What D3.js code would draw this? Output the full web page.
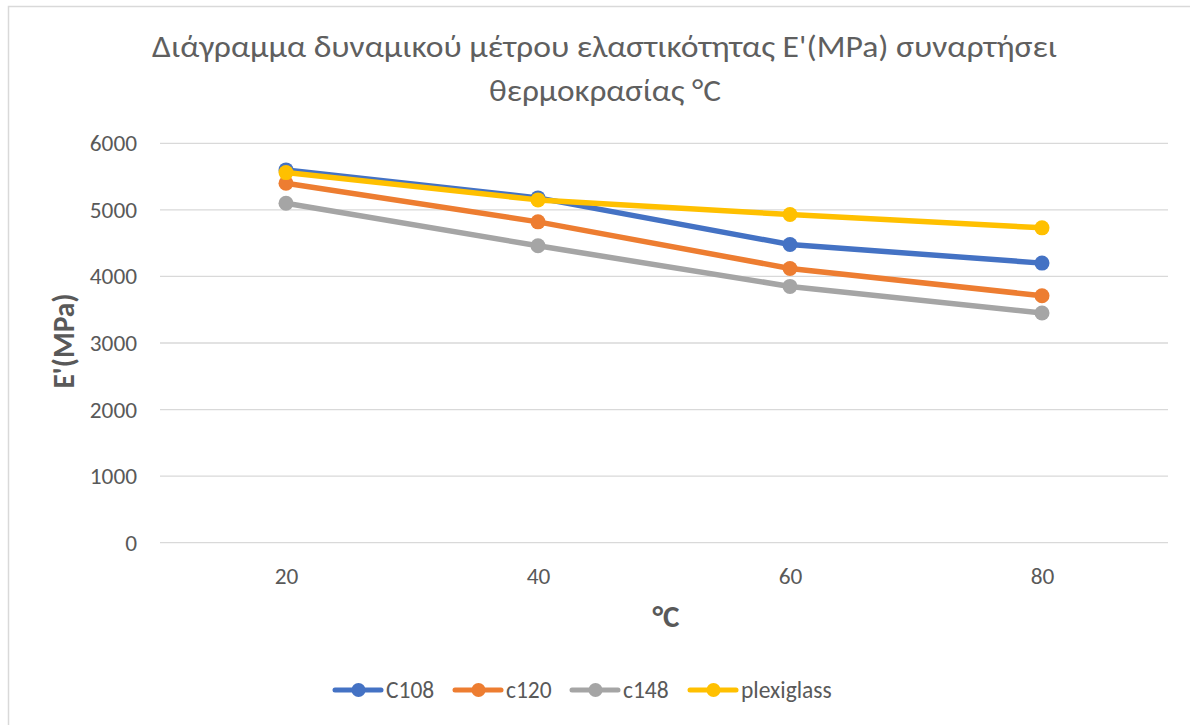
<!DOCTYPE html>
<html>
<head>
<meta charset="utf-8">
<script src="https://cdn.jsdelivr.net/npm/d3@7"></script>
<style>
  html, body { margin: 0; padding: 0; background: #fff; }
  svg { display: block; }
</style>
</head>
<body>
<svg id="chart" width="1190" height="725"></svg>
<script>
// Temperatures (°C) on the category axis
const temperatures = ["20", "40", "60", "80"];

// Storage modulus E' (MPa) per material
const c108 = [5600, 5180, 4480, 4200];
const c120 = [5400, 4820, 4120, 3710];
const c148 = [5100, 4460, 3850, 3450];
const plexiglass = [5560, 5150, 4930, 4730];

const seriesNames = ["C108", "c120", "c148", "plexiglass"];
const seriesColors = ["#4472C4", "#ED7D31", "#A5A5A5", "#FFC000"];
const yTicks = [0, 1000, 2000, 3000, 4000, 5000, 6000];

const series = [c108, c120, c148, plexiglass].map((values, i) => ({
  name: seriesNames[i],
  color: seriesColors[i],
  values
}));

const svg = d3.select("#chart");
const font = "Carlito, 'Open Sans', 'Noto Sans', sans-serif";
const textColor = "#595959";

// chart frame
svg.append("rect")
  .attr("x", 8.5).attr("y", 6.5)
  .attr("width", 1200).attr("height", 740)
  .attr("fill", "#fff")
  .attr("stroke", "#D9D9D9").attr("stroke-width", 1.5);

const plot = { left: 160, right: 1168, top: 143.3, bottom: 542.7 };

const x = d3.scalePoint()
  .domain(temperatures)
  .range([plot.left, plot.right])
  .padding(0.5);

const y = d3.scaleLinear()
  .domain([0, 6000])
  .range([plot.bottom, plot.top]);

// gridlines
svg.append("g")
  .selectAll("line")
  .data(yTicks)
  .join("line")
  .attr("x1", plot.left).attr("x2", plot.right)
  .attr("y1", d => y(d)).attr("y2", d => y(d))
  .attr("stroke", "#D9D9D9").attr("stroke-width", 1.3);

// y axis labels
const yAxis = svg.append("g")
  .attr("transform", `translate(${plot.left},0)`)
  .call(d3.axisLeft(y).tickValues(yTicks).tickSize(0).tickPadding(23).tickFormat(d3.format("d")));
yAxis.select(".domain").remove();
yAxis.selectAll("text")
  .attr("font-family", font).attr("font-size", 23.3).attr("fill", textColor);

// x axis labels
const xAxis = svg.append("g")
  .attr("transform", `translate(0,${plot.bottom})`)
  .call(d3.axisBottom(x).tickSize(0).tickPadding(25));
xAxis.select(".domain").remove();
xAxis.selectAll("text")
  .attr("font-family", font).attr("font-size", 23.3).attr("fill", textColor);

// lines and markers
const line = d3.line()
  .x((d, i) => x(temperatures[i]))
  .y(d => y(d));

const groups = svg.append("g")
  .selectAll("g")
  .data(series)
  .join("g");

groups.append("path")
  .attr("d", d => line(d.values))
  .attr("fill", "none")
  .attr("stroke", d => d.color)
  .attr("stroke-width", 5.5)
  .attr("stroke-linejoin", "round")
  .attr("stroke-linecap", "round");

groups.selectAll("circle")
  .data(d => d.values.map((v, i) => ({ v, i, color: d.color })))
  .join("circle")
  .attr("cx", d => x(temperatures[d.i]))
  .attr("cy", d => y(d.v))
  .attr("r", 7.5)
  .attr("fill", d => d.color);

// title
const title = svg.append("text")
  .attr("text-anchor", "middle")
  .attr("font-family", font)
  .attr("font-weight", 300)
  .attr("font-size", 30)
  .attr("fill", "#5f5f5f");
title.append("tspan").attr("x", 604.5).attr("y", 57)
  .attr("textLength", 905).attr("lengthAdjust", "spacingAndGlyphs")
  .text("Διάγραμμα δυναμικού μέτρου ελαστικότητας Ε'(MPa) συναρτήσει");
title.append("tspan").attr("x", 605).attr("y", 101)
  .attr("textLength", 232).attr("lengthAdjust", "spacingAndGlyphs")
  .text("θερμοκρασίας °C");

// axis titles
svg.append("text")
  .attr("x", 666).attr("y", 627)
  .attr("text-anchor", "middle")
  .attr("font-family", font).attr("font-weight", 700)
  .attr("font-size", 31).attr("fill", textColor)
  .text("°C");

svg.append("text")
  .attr("transform", `translate(74,${341}) rotate(-90)`)
  .attr("text-anchor", "middle")
  .attr("font-family", font).attr("font-weight", 700)
  .attr("font-size", 29.5).attr("fill", textColor)
  .text("E'(MPa)");

// legend
const legendX = [333, 453, 570, 688];
const legend = svg.append("g")
  .selectAll("g")
  .data(series)
  .join("g")
  .attr("transform", (d, i) => `translate(${legendX[i]},690)`);
legend.append("line")
  .attr("x1", 2).attr("x2", 48)
  .attr("stroke", d => d.color).attr("stroke-width", 5)
  .attr("stroke-linecap", "round");
legend.append("circle")
  .attr("cx", 25.5).attr("r", 7)
  .attr("fill", d => d.color);
legend.append("text")
  .attr("x", 53).attr("y", 8)
  .attr("font-family", font).attr("font-size", 23.5).attr("fill", textColor)
  .text(d => d.name);
</script>
</body>
</html>
